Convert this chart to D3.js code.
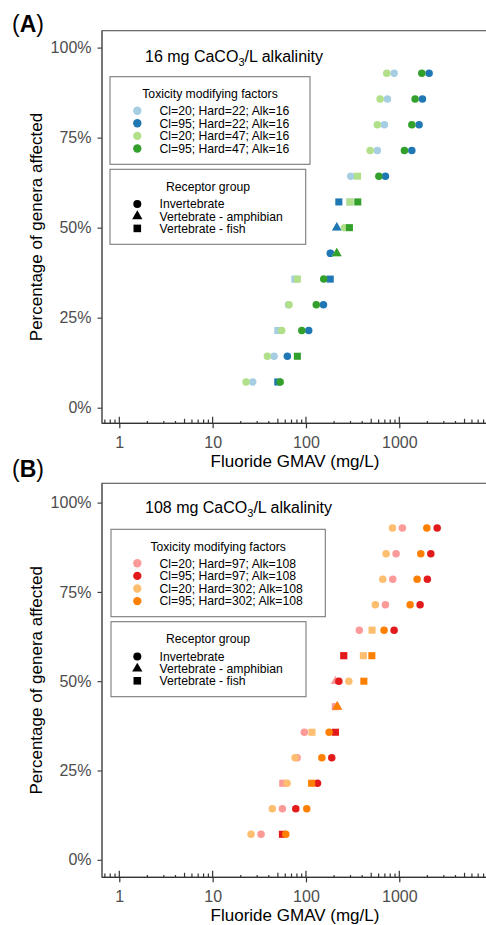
<!DOCTYPE html>
<html><head><meta charset="utf-8">
<script src="https://cdn.jsdelivr.net/npm/d3@7"></script>
<style>body{margin:0;background:#fff} svg{display:block;font-family:"Liberation Sans",Arial,sans-serif}</style>
</head><body><svg id="c" width="486" height="925"></svg>
<script>
// ---------- DATA ----------
const pctAffected = [7.14, 14.29, 21.43, 28.57, 35.71, 42.86, 50, 57.14, 64.29, 71.43, 78.57, 85.71, 92.86];
const yTickVals = [0, 25, 50, 75, 100];
const yTickLabels = ["0%", "25%", "50%", "75%", "100%"];
const xTickVals = [1, 10, 100, 1000];
const xTickLabels = ["1", "10", "100", "1000"];

const seriesA = ["Cl=20; Hard=22; Alk=16", "Cl=95; Hard=22; Alk=16", "Cl=20; Hard=47; Alk=16", "Cl=95; Hard=47; Alk=16"];
const colorsA = ["#A6CEE3", "#1F78B4", "#B2DF8A", "#33A02C"];
const valuesA = [
  [26.9, 45.5, 49.9, 65, 76, 181, 214, 295, 302, 582, 692, 746, 880],
  [49.9, 63.2, 107, 154, 182, 183, 214, 225, 710, 1362, 1630, 1770, 2086],
  [22.8, 38.6, 55, 65.9, 80.9, 214, 258, 297, 357, 487, 582, 623, 734],
  [52.9, 80.9, 90.2, 129, 155, 214, 292, 359, 604, 1135, 1362, 1477, 1742]
];
const shapesA = [
  ["c","c","s","c","s","c","t","s","c","c","c","c","c"],
  ["s","c","c","c","s","c","t","s","c","c","c","c","c"],
  ["c","c","c","c","s","t","c","s","s","c","c","c","c"],
  ["c","s","c","c","c","t","s","s","c","c","c","c","c"]
];

const seriesB = ["Cl=20; Hard=97; Alk=108", "Cl=95; Hard=97; Alk=108", "Cl=20; Hard=302; Alk=108", "Cl=95; Hard=302; Alk=108"];
const colorsB = ["#FB9A99", "#E31A1C", "#FDBF6F", "#FF7F00"];
const valuesB = [
  [33, 55.9, 56.4, 80.4, 96.1, 206, 207, 254, 373, 710, 851, 924, 1079],
  [55.9, 77.8, 133, 189, 207, 216, 225, 254, 880, 1671, 2000, 2177, 2547],
  [25.8, 43.6, 62.7, 76.4, 116, 216, 288, 412, 511, 554, 665, 722, 844],
  [60.8, 102, 115, 148, 177, 216, 417, 508, 687, 1306, 1552, 1699, 1972]
];
const shapesB = [
  ["c","c","s","c","c","s","t","s","c","c","c","c","c"],
  ["s","c","c","c","s","t","c","s","c","c","c","c","c"],
  ["c","c","c","c","s","t","c","s","s","c","c","c","c"],
  ["c","c","s","c","c","t","s","s","c","c","c","c","c"]
];

const receptorGroups = ["Invertebrate", "Vertebrate - amphibian", "Vertebrate - fish"];
const receptorShapes = ["c", "t", "s"];

// ---------- DRAW ----------
const svg = d3.select("#c");
const symType = {c: d3.symbolCircle, t: d3.symbolTriangle, s: d3.symbolSquare};
const symSize = {c: 44, t: 40, s: 50};
const sym = (k, scale=1) => d3.symbol().type(symType[k]).size(symSize[k]*scale)();

function panel(cfg) {
  const g = svg.append("g");
  const left = 102, right = 492;
  const x = d3.scaleLog().domain([1, 1000]).range([119.3, 399.3]);
  const y = d3.scaleLinear().domain([0, 100]).range([cfg.y0, cfg.y100]);

  // panel frame (top + left), right side lies beyond the picture
  g.append("rect").attr("x", left).attr("y", cfg.top).attr("width", right - left).attr("height", cfg.axisY - cfg.top)
    .attr("fill", "none").attr("stroke", "#555").attr("stroke-width", 1.1);

  // Y axis
  const ya = g.append("g").attr("transform", `translate(${left},0)`)
    .call(d3.axisLeft(y).tickValues(yTickVals).tickFormat((d,i)=>yTickLabels[i]).tickSize(4.5).tickPadding(6));
  ya.select(".domain").remove();
  ya.selectAll("line").attr("stroke", "#333").attr("stroke-width", 1.1);
  ya.selectAll("text").attr("fill", "#4D4D4D").style("font-size", "16px").style("font-family", "Liberation Sans, Arial");

  // X axis
  const xa = g.append("g").attr("transform", `translate(0,${cfg.axisY})`)
    .call(d3.axisBottom(x).tickValues(xTickVals).tickFormat((d,i)=>xTickLabels[i]).tickSize(5).tickPadding(8));
  xa.select(".domain").remove();
  xa.selectAll("line").attr("stroke", "#333").attr("stroke-width", 1.2);
  xa.selectAll("text").attr("fill", "#4D4D4D").style("font-size", "16px").style("font-family", "Liberation Sans, Arial");
  g.append("line").attr("x1", left).attr("x2", right).attr("y1", cfg.axisY).attr("y2", cfg.axisY)
    .attr("stroke", "#333").attr("stroke-width", 1.2);
  g.append("line").attr("x1", left).attr("x2", left).attr("y1", cfg.top).attr("y2", cfg.axisY)
    .attr("stroke", "#555").attr("stroke-width", 1.1);

  // log ticks inside the panel
  const logTicks = [];
  for (let e = -1; e <= 4; e++) for (let m = 1; m <= 9; m++) logTicks.push({v: m * Math.pow(10, e), m});
  g.append("g").selectAll("line").data(logTicks.filter(d => x(d.v) > left + 1 && x(d.v) < 486))
    .join("line")
    .attr("x1", d => x(d.v)).attr("x2", d => x(d.v))
    .attr("y1", cfg.axisY)
    .attr("y2", d => cfg.axisY - (d.m === 1 ? 6.5 : d.m === 5 ? 4.5 : d.m >= 6 ? 3.8 : 2.3))
    .attr("stroke", "#333").attr("stroke-width", 1.2);

  // axis titles
  g.append("text").attr("x", 295).attr("y", cfg.axisY + 44).attr("text-anchor", "middle")
    .style("font-size", "17px").attr("fill", "#000").text("Fluoride GMAV (mg/L)");
  g.append("text").attr("transform", `translate(42,${(cfg.top + cfg.axisY) / 2}) rotate(-90)`)
    .attr("text-anchor", "middle").style("font-size", "17px").attr("fill", "#000")
    .text("Percentage of genera affected");

  // panel label
  const pl = g.append("text").attr("x", 12).attr("y", cfg.labelY).style("font-size", "23px").attr("fill", "#000");
  pl.append("tspan").text("(");
  pl.append("tspan").attr("font-weight", "bold").text(cfg.label);
  pl.append("tspan").text(")");

  // title with subscript
  const t = g.append("text").attr("x", 145).attr("y", cfg.titleY).style("font-size", "16px").attr("fill", "#000");
  t.append("tspan").text(cfg.alk + " mg CaCO");
  t.append("tspan").attr("dy", 4).style("font-size", "11px").text("3");
  t.append("tspan").attr("dy", -4).text("/L alkalinity");

  // legend 1
  const L1 = cfg.leg1;
  g.append("rect").attr("x", L1[0]).attr("y", L1[1]).attr("width", L1[2] - L1[0]).attr("height", L1[3] - L1[1])
    .attr("fill", "#fff").attr("stroke", "#7a7a7a").attr("stroke-width", 1.1);
  g.append("text").attr("x", (L1[0] + L1[2]) / 2).attr("y", L1[1] + 17).attr("dy", "0.35em")
    .attr("text-anchor", "middle").style("font-size", "12.2px").text("Toxicity modifying factors");
  const li = [34, 46.6, 59.2, 71.8];
  cfg.series.forEach((s, i) => {
    g.append("path").attr("d", sym("c", 1.25)).attr("fill", cfg.colors[i])
      .attr("transform", `translate(137.3,${L1[1] + li[i]})`);
    g.append("text").attr("x", 159.5).attr("y", L1[1] + li[i]).attr("dy", "0.36em")
      .style("font-size", "12.2px").text(s);
  });

  // legend 2
  const L2 = cfg.leg2;
  g.append("rect").attr("x", L2[0]).attr("y", L2[1]).attr("width", L2[2] - L2[0]).attr("height", L2[3] - L2[1])
    .attr("fill", "#fff").attr("stroke", "#7a7a7a").attr("stroke-width", 1.1);
  g.append("text").attr("x", 208).attr("y", L2[1] + 17.4).attr("dy", "0.35em")
    .attr("text-anchor", "middle").style("font-size", "12.2px").text("Receptor group");
  const l2i = [34.7, 46.9, 59.1];
  receptorGroups.forEach((s, i) => {
    g.append("path").attr("d", sym(receptorShapes[i], 1.15)).attr("fill", "#000")
      .attr("transform", `translate(137.3,${L2[1] + l2i[i]})`);
    g.append("text").attr("x", 159.5).attr("y", L2[1] + l2i[i]).attr("dy", "0.36em")
      .style("font-size", "12.2px").text(s);
  });

  // points
  const pts = [];
  cfg.values.forEach((vals, si) => vals.forEach((v, k) =>
    pts.push({v, p: pctAffected[k], shape: cfg.shapes[si][k], color: cfg.colors[si]})));
  g.append("g").selectAll("path").data(pts).join("path")
    .attr("d", d => sym(d.shape))
    .attr("fill", d => d.color)
    .attr("transform", d => `translate(${x(d.v)},${y(d.p)})`);
}

panel({label: "A", labelY: 32, top: 30.7, axisY: 423.3, y0: 407.7, y100: 47.6, titleY: 61.5, alk: "16",
  leg1: [110, 76.7, 310, 164.3], leg2: [110, 169.3, 305.7, 244.3],
  series: seriesA, colors: colorsA, values: valuesA, shapes: shapesA});
panel({label: "B", labelY: 477, top: 483.3, axisY: 877.3, y0: 859.8, y100: 502.6, titleY: 513.3, alk: "108",
  leg1: [111, 529.3, 325.3, 616.7], leg2: [111, 621.7, 306, 696.7],
  series: seriesB, colors: colorsB, values: valuesB, shapes: shapesB});
</script>
</body></html>
